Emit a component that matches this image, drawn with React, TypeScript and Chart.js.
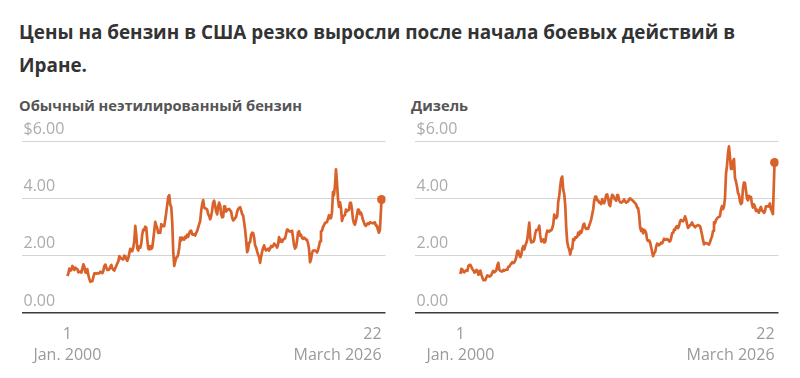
import React, { useEffect, useRef } from 'react';
import { Chart, registerables } from 'chart.js';

Chart.register(...registerables);

// Monthly average prices, USD per gallon, Jan 2000 – Feb 2026
const gasoline: number[] = [
  1.29, 1.38, 1.55, 1.48, 1.50, 1.64, 1.58, 1.50, 1.58, 1.55, 1.53, 1.42,
  1.44, 1.45, 1.41, 1.55, 1.70, 1.61, 1.42, 1.40, 1.53, 1.32, 1.19, 1.09,
  1.11, 1.11, 1.25, 1.38, 1.38, 1.37, 1.39, 1.38, 1.39, 1.44, 1.42, 1.39,
  1.47, 1.64, 1.69, 1.59, 1.50, 1.50, 1.52, 1.62, 1.68, 1.56, 1.51, 1.48,
  1.57, 1.65, 1.73, 1.80, 1.98, 1.94, 1.90, 1.88, 1.87, 2.00, 1.98, 1.88,
  1.82, 1.91, 2.08, 2.24, 2.16, 2.16, 2.29, 2.50, 3.04, 2.72, 2.25, 2.18,
  2.32, 2.28, 2.42, 2.75, 2.91, 2.89, 3.01, 2.98, 2.56, 2.25, 2.22, 2.33,
  2.24, 2.28, 2.56, 2.86, 3.18, 3.05, 2.96, 2.79, 2.80, 2.80, 3.10, 3.03,
  3.04, 3.03, 3.26, 3.50, 3.78, 4.05, 4.11, 3.78, 3.70, 3.17, 2.15, 1.64,
  1.79, 1.93, 1.95, 2.05, 2.27, 2.63, 2.53, 2.63, 2.57, 2.56, 2.66, 2.62,
  2.73, 2.66, 2.78, 2.86, 2.87, 2.74, 2.73, 2.75, 2.70, 2.80, 2.86, 2.99,
  3.10, 3.21, 3.56, 3.80, 3.94, 3.68, 3.65, 3.64, 3.61, 3.45, 3.38, 3.27,
  3.38, 3.58, 3.85, 3.92, 3.73, 3.54, 3.44, 3.72, 3.85, 3.75, 3.45, 3.34,
  3.35, 3.72, 3.71, 3.54, 3.60, 3.62, 3.63, 3.58, 3.53, 3.33, 3.23, 3.26,
  3.31, 3.36, 3.53, 3.63, 3.66, 3.69, 3.59, 3.45, 3.40, 3.17, 2.91, 2.55,
  2.12, 2.21, 2.46, 2.47, 2.72, 2.80, 2.79, 2.64, 2.36, 2.29, 2.15, 2.04,
  1.95, 1.75, 1.96, 2.14, 2.26, 2.36, 2.23, 2.18, 2.22, 2.24, 2.18, 2.25,
  2.34, 2.30, 2.33, 2.42, 2.39, 2.35, 2.28, 2.38, 2.65, 2.49, 2.56, 2.48,
  2.55, 2.59, 2.60, 2.75, 2.91, 2.90, 2.85, 2.85, 2.84, 2.87, 2.63, 2.37,
  2.25, 2.30, 2.51, 2.81, 2.85, 2.70, 2.72, 2.62, 2.59, 2.63, 2.60, 2.56,
  2.55, 2.43, 2.24, 1.77, 1.87, 2.08, 2.18, 2.18, 2.18, 2.16, 2.11, 2.20,
  2.33, 2.50, 2.85, 2.86, 3.00, 3.06, 3.14, 3.16, 3.17, 3.29, 3.41, 3.30,
  3.31, 3.51, 4.22, 4.11, 4.44, 5.01, 4.56, 3.99, 3.70, 3.86, 3.68, 3.21,
  3.34, 3.39, 3.42, 3.61, 3.55, 3.58, 3.60, 3.84, 3.84, 3.61, 3.28, 3.13,
  3.08, 3.21, 3.42, 3.61, 3.60, 3.45, 3.50, 3.40, 3.25, 3.16, 3.07, 3.04,
  3.10, 3.13, 3.10, 3.16, 3.15, 3.14, 3.13, 3.15, 3.16, 3.05, 3.05, 2.90,
  2.80, 2.90,
];

const diesel: number[] = [
  1.36, 1.54, 1.52, 1.43, 1.42, 1.47, 1.49, 1.47, 1.64, 1.67, 1.68, 1.61,
  1.53, 1.49, 1.41, 1.43, 1.50, 1.48, 1.34, 1.35, 1.48, 1.35, 1.24, 1.15,
  1.15, 1.15, 1.24, 1.31, 1.30, 1.27, 1.29, 1.32, 1.42, 1.47, 1.42, 1.45,
  1.49, 1.66, 1.75, 1.51, 1.47, 1.45, 1.45, 1.50, 1.48, 1.50, 1.51, 1.51,
  1.61, 1.62, 1.68, 1.73, 1.77, 1.74, 1.76, 1.84, 1.95, 2.16, 2.17, 2.02,
  1.95, 2.03, 2.24, 2.33, 2.22, 2.35, 2.44, 2.57, 2.87, 3.15, 2.62, 2.46,
  2.48, 2.48, 2.56, 2.78, 2.89, 2.90, 2.93, 3.05, 2.69, 2.49, 2.53, 2.57,
  2.46, 2.48, 2.72, 2.87, 2.86, 2.84, 2.88, 2.88, 2.96, 3.09, 3.43, 3.34,
  3.31, 3.37, 3.88, 4.09, 4.42, 4.69, 4.76, 4.30, 4.14, 3.77, 2.97, 2.49,
  2.30, 2.22, 2.04, 2.22, 2.24, 2.58, 2.54, 2.64, 2.63, 2.66, 2.80, 2.73,
  2.86, 2.80, 2.91, 3.07, 3.12, 2.98, 2.93, 2.96, 2.94, 3.05, 3.15, 3.26,
  3.44, 3.61, 3.91, 4.06, 4.06, 3.93, 3.93, 3.85, 3.86, 3.80, 3.97, 3.86,
  3.83, 3.95, 4.12, 4.14, 4.00, 3.78, 3.73, 3.97, 4.12, 4.09, 4.00, 3.96,
  3.92, 4.11, 4.11, 3.93, 3.87, 3.85, 3.87, 3.91, 3.96, 3.89, 3.85, 3.88,
  3.89, 3.98, 4.00, 3.96, 3.94, 3.91, 3.87, 3.83, 3.79, 3.68, 3.66, 3.41,
  2.99, 2.86, 2.94, 2.78, 2.90, 2.87, 2.79, 2.56, 2.51, 2.53, 2.47, 2.30,
  2.14, 1.98, 2.09, 2.12, 2.30, 2.42, 2.40, 2.36, 2.40, 2.45, 2.43, 2.50,
  2.59, 2.56, 2.56, 2.58, 2.56, 2.50, 2.50, 2.60, 2.78, 2.79, 2.91, 2.90,
  3.00, 3.03, 2.96, 3.05, 3.20, 3.25, 3.21, 3.20, 3.26, 3.37, 3.27, 3.10,
  2.97, 3.01, 3.06, 3.08, 3.16, 3.07, 3.04, 2.99, 3.03, 3.05, 3.07, 3.05,
  3.03, 2.89, 2.73, 2.55, 2.39, 2.43, 2.44, 2.43, 2.41, 2.39, 2.47, 2.59,
  2.67, 2.86, 3.16, 3.13, 3.25, 3.29, 3.34, 3.35, 3.38, 3.61, 3.73, 3.62,
  3.72, 4.00, 4.85, 5.14, 5.57, 5.81, 5.45, 5.03, 5.03, 5.29, 5.37, 4.71,
  4.59, 4.42, 4.19, 4.12, 3.90, 3.80, 3.85, 4.34, 4.55, 4.54, 4.28, 4.00,
  3.93, 4.09, 4.02, 4.05, 3.80, 3.68, 3.79, 3.71, 3.56, 3.60, 3.54, 3.50,
  3.63, 3.70, 3.57, 3.56, 3.49, 3.55, 3.72, 3.72, 3.73, 3.71, 3.82, 3.62,
  3.55, 3.45,
];

// Latest weekly reading (22 March 2026)
const gasolineLatest = 3.96;
const dieselLatest = 5.25;

const startYear = 2000;
const latestYear = 2026.22; // 22 March 2026 as a fractional year
const xMin = 1996.17;
const xMax = 2026.55;

const yTickValues = [0, 2, 4, 6];
const firstTickLabel = ['1', 'Jan. 2000'];
const lastTickLabel = ['22', 'March 2026'];

const titleText = 'Цены на бензин в США резко выросли после начала боевых действий в';
const titleText2 = 'Иране.';
const gasolineTitle = 'Обычный неэтилированный бензин';
const dieselTitle = 'Дизель';

const ORANGE = '#d9622b';
const FONT = '"Open Sans", "Noto Sans", sans-serif';

function PriceChart({ values, latest }: { values: number[]; latest: number }) {
  const ref = useRef<HTMLCanvasElement>(null);
  useEffect(() => {
    const pts = values.map((v, i) => ({ x: startYear + i / 12, y: v }));
    pts.push({ x: latestYear, y: latest });
    const n = pts.length;
    const tickFont = { family: FONT, size: 16, lineHeight: 1.3 };
    const chart = new Chart(ref.current!, {
      type: 'line',
      data: {
        datasets: [
          {
            data: pts,
            borderColor: ORANGE,
            backgroundColor: ORANGE,
            borderWidth: 2.7,
            borderJoinStyle: 'round',
            tension: 0,
            pointRadius: (c: any) => (c.dataIndex === n - 1 ? 4.5 : 0),
            pointHoverRadius: 0,
            pointBorderWidth: 0,
          },
        ],
      },
      options: {
        animation: false,
        responsive: false,
        events: [],
        layout: { padding: { top: 29, bottom: 50, left: 0, right: 0 } },
        plugins: { legend: { display: false }, tooltip: { enabled: false } },
        scales: {
          x: {
            type: 'linear',
            min: xMin,
            max: xMax,
            position: { y: 0 } as any,
            grid: { display: false },
            border: { display: false },
            afterBuildTicks: (s: any) => {
              s.ticks = [{ value: startYear }];
            },
            ticks: {
              callback: () => firstTickLabel,
              color: '#9a9a9a',
              font: tickFont,
              padding: 3,
              maxRotation: 0,
              autoSkip: false,
            },
          },
          x2: {
            type: 'linear',
            axis: 'x',
            min: xMin,
            max: xMax,
            position: { y: 0 } as any,
            grid: { display: false },
            border: { display: false },
            afterBuildTicks: (s: any) => {
              s.ticks = [{ value: latestYear }];
            },
            ticks: {
              align: 'end',
              callback: () => lastTickLabel,
              color: '#9a9a9a',
              font: tickFont,
              padding: 3,
              maxRotation: 0,
              autoSkip: false,
            },
          },
          y: {
            type: 'linear',
            position: 'left',
            min: 0,
            max: 6,
            afterFit: (s: any) => {
              s.width = 0;
            },
            afterBuildTicks: (s: any) => {
              s.ticks = yTickValues.map((v) => ({ value: v }));
            },
            grid: {
              drawTicks: false,
              color: (c: any) => (c.tick && c.tick.value === 0 ? '#3a3a3a' : '#d4d4d4'),
              lineWidth: (c: any) => (c.tick && c.tick.value === 0 ? 1.5 : 1),
            },
            border: { display: false },
            ticks: {
              mirror: true,
              labelOffset: -12,
              padding: 2,
              color: '#ababab',
              font: { family: FONT, size: 16 },
              callback: (v: any) => (Number(v) === 6 ? '$6.00' : Number(v).toFixed(2)),
            },
          },
        },
      } as any,
    });
    return () => chart.destroy();
  }, [values, latest]);
  return <canvas ref={ref} width={373} height={251} style={{ display: 'block', width: 373, height: 251 }} />;
}

export default function App() {
  const sub: React.CSSProperties = {
    position: 'absolute',
    top: 87,
    fontFamily: FONT,
    fontWeight: 700,
    fontSize: 14.7,
    lineHeight: '20px',
    color: '#555',
    whiteSpace: 'nowrap',
  };
  return (
    <div style={{ position: 'relative', width: 784, height: 362, background: '#fff' }}>
      <div
        style={{
          position: 'absolute',
          left: 11,
          top: 8,
          fontFamily: FONT,
          fontWeight: 700,
          fontSize: 18.9,
          lineHeight: '33px',
          color: '#333',
          whiteSpace: 'nowrap',
        }}
      >
        {titleText}
        <br />
        {titleText2}
      </div>
      <div style={{ ...sub, left: 11 }}>{gasolineTitle}</div>
      <div style={{ ...sub, left: 403 }}>{dieselTitle}</div>
      <div style={{ position: 'absolute', left: 9, top: 104 }}>
        <PriceChart values={gasoline} latest={gasolineLatest} />
      </div>
      <div style={{ position: 'absolute', left: 402, top: 104 }}>
        <PriceChart values={diesel} latest={dieselLatest} />
      </div>
    </div>
  );
}
